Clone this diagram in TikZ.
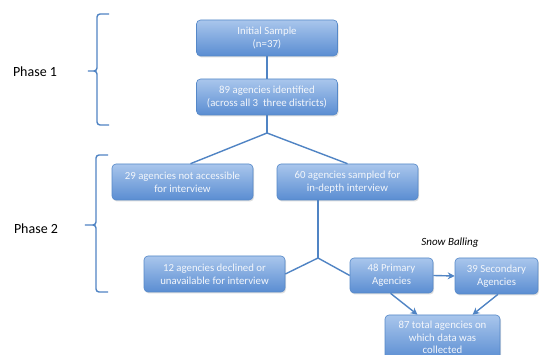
\documentclass[tikz,border=0pt]{standalone}
\usepackage{fontspec}
\setmainfont{Carlito}
\usetikzlibrary{shadows,arrows.meta,calc}
\definecolor{lineblue}{HTML}{5084C4}
\definecolor{boxtop}{HTML}{A9C6EC}
\definecolor{boxbot}{HTML}{5A8DD2}
\definecolor{boxdraw}{HTML}{5588C8}
\definecolor{boxtext}{HTML}{F3F6FB}
\tikzset{
  box/.style={draw=boxdraw, line width=0.6pt, rounded corners=4pt,
    top color=boxtop, bottom color=boxbot, text=boxtext,
    align=center, inner sep=1pt,
    font=\fontsize{10.8}{12.6}\selectfont,
    drop shadow={opacity=0.25, shadow xshift=1pt, shadow yshift=-1.5pt}},
  conn/.style={draw=lineblue, line width=1.4pt},
  arr/.style={conn, -{Stealth[length=7pt,width=7pt]}},
  brace/.style={draw=lineblue, line width=1.4pt, rounded corners=3pt},
  phase/.style={font=\fontsize{14}{16}\selectfont, text=black},
}
\begin{document}
\begin{tikzpicture}[x=1pt,y=-1pt]
\useasboundingbox (0,0) rectangle (539,355);
\fill[white] (0,0) rectangle (539,355);
% boxes
\node[box, minimum width=141pt, minimum height=36pt] (b1) at (267,38) {Initial Sample\\(n=37)};
\node[box, minimum width=141pt, minimum height=36pt] (b2) at (267,97) {89 agencies identified\\(across all 3\ \ three districts)};
\node[box, minimum width=141pt, minimum height=36pt] (b3) at (182.5,182) {29 agencies not accessible\\for interview};
\node[box, minimum width=141pt, minimum height=36pt] (b4) at (347.5,182) {60 agencies sampled for\\in-depth interview};
\node[box, minimum width=141pt, minimum height=36pt] (b5) at (214.5,274) {12 agencies declined or\\unavailable for interview};
\node[box, minimum width=83pt, minimum height=35pt] (b6) at (391.5,275.5) {48 Primary\\Agencies};
\node[box, minimum width=83pt, minimum height=36pt] (b7) at (496.5,276) {39 Secondary\\Agencies};
\node[box, minimum width=115pt, minimum height=45pt] (b8) at (442.5,337.5) {87 total agencies on\\which data was\\collected};
\node[font=\fontsize{11}{13}\selectfont\itshape] (sb) at (450,243) {Snow Balling};
% junctions
\coordinate (j1) at (267,133);
\coordinate (j2) at (318,258);
\draw[conn] (b1.south) -- (b2.south |- b2.north);
\draw[conn] (b2.south) -- (j1);
\draw[conn] (j1) -- ([xshift=8pt]b3.north);
\draw[conn] (j1) -- (b4.north);
\draw[conn] ([xshift=-29.5pt]b4.south) -- (j2);
\draw[conn] (j2) -- (b5.east);
\draw[conn] (j2) -- (b6.west);
\draw[arr] (b6.east) -- (b7.west);
\draw[arr] ([xshift=-1pt]b6.south) -- ([xshift=-25pt]b8.north);
\draw[arr] ([xshift=1.5pt]b7.south) -- ([xshift=30pt]b8.north);
% braces
\coordinate (p1t) at (109,14);
\coordinate (p1m) at (86,71);
\coordinate (p1b) at (109,125);
\draw[brace] (p1t) -- (97,14) -- (97,71) -- (p1m) -- (97,71) -- (97,125) -- (p1b);
\node[phase] (ph1) at (35,72) {Phase 1};
\coordinate (p2t) at (108,155);
\coordinate (p2m) at (83,225);
\coordinate (p2b) at (108,292);
\draw[brace] (p2t) -- (96,155) -- (96,225) -- (p2m) -- (96,225) -- (96,292) -- (p2b);
\node[phase] (ph2) at (36,229) {Phase 2};
\end{tikzpicture}
\end{document}
